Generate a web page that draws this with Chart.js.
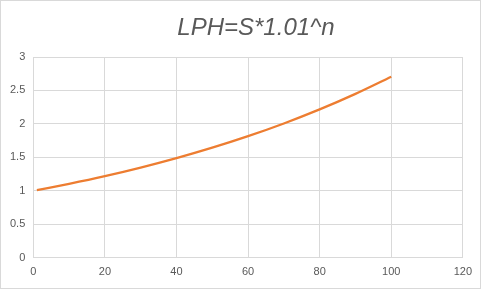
<!DOCTYPE html>
<html>
<head>
<meta charset="utf-8">
<script src="https://cdn.jsdelivr.net/npm/chart.js@4"></script>
<style>
  html, body { margin: 0; padding: 0; background: #fff; }
  #wrap { width: 479px; height: 287px; border: 1px solid #d9d9d9; position: relative; }
</style>
</head>
<body>
<div id="wrap"><canvas id="myChart" width="479" height="287"></canvas></div>
<script>
// n values and LPH values
var nValues = [1, 10, 20, 30, 40, 50, 60, 70, 80, 90, 100];
var lphValues = [1.01, 1.105, 1.22, 1.348, 1.489, 1.645, 1.817, 2.007, 2.217, 2.449, 2.705];
var titleText = 'LPH=S*1.01^n';

var points = nValues.map(function (n, i) { return { x: n, y: lphValues[i] }; });

// title drawn slightly right of centre, as in the original
var titlePlugin = {
    id: 'offsetTitle',
    afterDraw: function (chart) {
        var c = chart.ctx;
        c.save();
        c.font = 'italic 24px "Liberation Sans"';
        c.fillStyle = '#595959';
        c.textAlign = 'center';
        c.textBaseline = 'middle';
        c.fillText(titleText, 255, 27);
        c.restore();
    }
};

var ctx = document.getElementById('myChart').getContext('2d');
var myChart = new Chart(ctx, {
    type: 'scatter',
    data: {
        datasets: [{
            data: points,
            showLine: true,
            borderColor: '#ED7D31',
            borderWidth: 2.25,
            pointRadius: 0,
            cubicInterpolationMode: 'monotone',
            fill: false
        }]
    },
    options: {
        responsive: false,
        animation: false,
        layout: { padding: { left: 1, right: 12, top: 56, bottom: 1 } },
        plugins: {
            legend: { display: false },
            tooltip: { enabled: false },
            title: { display: false }
        },
        scales: {
            x: {
                type: 'linear',
                min: 0,
                max: 120,
                ticks: { stepSize: 20, color: '#595959', font: { family: 'Liberation Sans', size: 11 }, maxRotation: 0, padding: 8 },
                grid: { color: '#d9d9d9', drawTicks: false },
                border: { color: '#d9d9d9' }
            },
            y: {
                min: 0,
                max: 3,
                ticks: {
                    stepSize: 0.5, color: '#595959', font: { family: 'Liberation Sans', size: 11 }, padding: 8,
                    callback: function (v) { return String(v); }
                },
                grid: { color: '#d9d9d9', drawTicks: false },
                border: { color: '#d9d9d9' }
            }
        }
    },
    plugins: [titlePlugin]
});
</script>
</body>
</html>
